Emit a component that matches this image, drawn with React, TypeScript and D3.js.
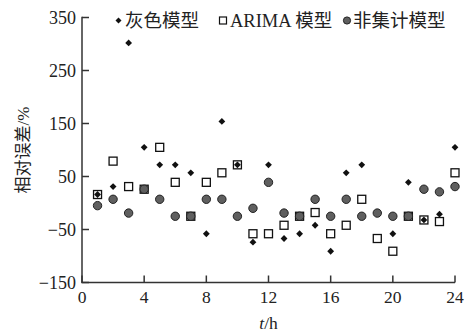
import React from "react";
import * as d3 from "d3";

const hours = [1, 2, 3, 4, 5, 6, 7, 8, 9, 10, 11, 12, 13, 14, 15, 16, 17, 18, 19, 20, 21, 22, 23, 24];
const greyModel = [16, 31, 302, 105, 72, 72, 57, -58, 154, 72, -74, 72, -67, -58, -42, -91, 57, 72, -19, -58, 39, -32, -21, 105];
const arimaModel = [16, 79, 31, 26, 105, 39, -25, 39, 57, 72, -58, -58, -42, -25, -18, -58, -42, 7, -67, -91, -25, -32, -35, 57];
const nonAggModel = [-5, 7, -19, 26, 7, -25, -25, 7, 7, -25, -10, 39, -19, -25, 7, -25, 7, -25, -19, -25, -25, 26, 21, 31];
const xTicks = [0, 4, 8, 12, 16, 20, 24];
const yTicks = [-150, -50, 50, 150, 250, 350];
const legendLabels = ["灰色模型", "ARIMA 模型", "非集计模型"];

const W = 474, H = 332;
const left = 82, right = 455, top = 17.5, bottom = 282.5;
const FONT = "'Liberation Serif', 'Times New Roman', 'Noto Sans CJK SC', serif";
const AXIS = "#333";

export default function App() {
  const x = d3.scaleLinear().domain([0, 24]).range([left, right]);
  const y = d3.scaleLinear().domain([-150, 350]).range([bottom, top]);
  const diamond = (cx: number, cy: number, r = 3.4) =>
    `M${cx},${cy - r}L${cx + r},${cy}L${cx},${cy + r}L${cx - r},${cy}Z`;

  return (
    <svg width={W} height={H} style={{ position: "absolute", left: 0, top: 0, background: "#fff" }} fontFamily={FONT}>
      <rect x={0} y={0} width={W} height={H} fill="#fff" />
      {/* axes */}
      <line x1={left} y1={top - 0.75} x2={left} y2={bottom} stroke={AXIS} strokeWidth={1.5} />
      <line x1={left - 0.75} y1={bottom} x2={right} y2={bottom} stroke={AXIS} strokeWidth={1.5} />
      {yTicks.map((t) => (
        <g key={"y" + t}>
          <line x1={left} x2={left + 7} y1={y(t)} y2={y(t)} stroke={AXIS} strokeWidth={1.5} />
          <text x={left - 6} y={y(t)} dy="0.35em" textAnchor="end" fontSize={18} fill="#222">
            {t < 0 ? "\u2212" + Math.abs(t) : t}
          </text>
        </g>
      ))}
      {xTicks.map((t) => (
        <g key={"x" + t}>
          <line x1={x(t)} x2={x(t)} y1={bottom} y2={bottom - 7} stroke={AXIS} strokeWidth={1.5} />
          <text x={x(t)} y={bottom + 20} textAnchor="middle" fontSize={17.5} fill="#222">{t}</text>
        </g>
      ))}
      {/* axis titles */}
      <text transform={`translate(23,${(top + bottom) / 2}) rotate(-90)`} dy="0.35em" textAnchor="middle" fontSize={17} fill="#222">
        相对误差/%
      </text>
      <text x={(left + right) / 2} y={329} textAnchor="middle" fontSize={17.5} fill="#222">
        <tspan fontStyle="italic">t</tspan>/h
      </text>
      {/* series: squares, diamonds, circles */}
      {hours.map((h, i) => (
        <rect key={"s" + i} x={x(h) - 4} y={y(arimaModel[i]) - 4} width={8} height={8} fill="#fff" stroke="#111" strokeWidth={1.3} />
      ))}
      {hours.map((h, i) => (
        <path key={"d" + i} d={diamond(x(h), y(greyModel[i]))} fill="#111" />
      ))}
      {hours.map((h, i) => (
        <circle key={"c" + i} cx={x(h)} cy={y(nonAggModel[i])} r={4.2} fill="#5f5f5f" stroke="#222" strokeWidth={1} />
      ))}
      {/* legend */}
      <path d={diamond(118.5, 20.5, 3)} fill="#111" />
      <text x={125} y={20.5} dy="0.35em" fontSize={18.5} fill="#222">{legendLabels[0]}</text>
      <rect x={219.5} y={17} width={7} height={7} fill="#fff" stroke="#111" strokeWidth={1.2} />
      <text x={230} y={20.5} dy="0.35em" fontSize={18.5} fill="#222">{legendLabels[1]}</text>
      <circle cx={347} cy={20.5} r={3.6} fill="#5f5f5f" stroke="#222" strokeWidth={1} />
      <text x={353} y={20.5} dy="0.35em" fontSize={18.5} fill="#222">{legendLabels[2]}</text>
    </svg>
  );
}
